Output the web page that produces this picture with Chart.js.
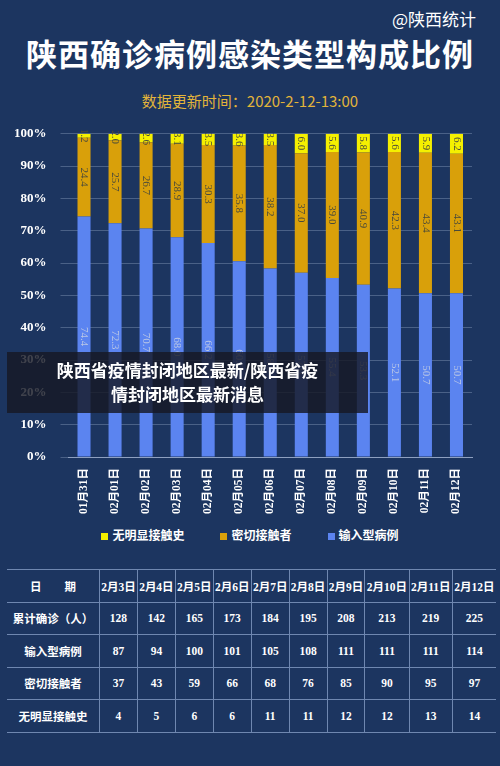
<!DOCTYPE html>
<html><head><meta charset="utf-8">
<script src="https://cdn.jsdelivr.net/npm/chart.js@4"></script>
<style>
body{margin:0;width:500px;height:766px;background:#1c3560;overflow:hidden;position:relative;font-family:"Noto Sans CJK SC",sans-serif;color:#fff}
#src{position:absolute;right:24px;top:6px;font-size:17px}
#title{position:absolute;left:0;width:500px;top:30px;text-align:center;font-size:31px;font-weight:bold;letter-spacing:1px}
#sub{position:absolute;left:0;width:500px;top:90px;text-align:center;font-size:15px;color:#e2b43a}
#wrap{position:absolute;left:0;top:112px;width:500px;height:405px}
#legend{position:absolute;left:0;width:500px;top:526px;text-align:center;font-size:12px;font-weight:bold}
#legend span{margin:0 18px}
#legend i{display:inline-block;width:7px;height:7px;margin-right:4px}
#banner{position:absolute;left:7px;top:352px;width:361px;height:61px;background:rgba(22,24,36,0.82);text-align:center;font-size:17px;font-weight:bold;line-height:24px;padding-top:6px;box-sizing:border-box}
table{position:absolute;left:7px;top:569px;width:489px;border-collapse:collapse;font-family:"Liberation Serif","Noto Sans CJK SC",serif;font-weight:bold;font-size:11.5px}
td{border-top:1px solid #6f87b0;border-bottom:1px solid #6f87b0;border-left:1px solid #6f87b0;height:31.5px;text-align:center;padding:0}
td:first-child{border-left:none;width:92px;font-family:"Noto Sans CJK SC",sans-serif}
</style></head><body>
<div id="src">@陕西统计</div>
<div id="title">陕西确诊病例感染类型构成比例</div>
<div id="sub">数据更新时间：2020-2-12-13:00</div>
<div id="wrap"><canvas id="c"></canvas></div>
<div id="legend"></div>
<table id="tbl"></table>
<div id="banner">陕西省疫情封闭地区最新/陕西省疫<br>情封闭地区最新消息</div>
<script>
const dates = ['01月31日','02月01日','02月02日','02月03日','02月04日','02月05日','02月06日','02月07日','02月08日','02月09日','02月10日','02月11日','02月12日'];
const imported = [74.4,72.3,70.7,68.0,66.2,60.6,58.3,57.0,55.4,53.3,52.1,50.7,50.7];
const contact = [24.4,25.7,26.7,28.9,30.3,35.8,38.2,37.0,39.0,40.9,42.3,43.4,43.1];
const unknown = [1.2,2.0,2.6,3.1,3.5,3.6,3.5,6.0,5.6,5.8,5.6,5.9,6.2];

const tableDates = ['2月3日','2月4日','2月5日','2月6日','2月7日','2月8日','2月9日','2月10日','2月11日','2月12日'];
const totalCases = [128,142,165,173,184,195,208,213,219,225];
const importedCases = [87,94,100,101,105,108,111,111,111,114];
const contactCases = [37,43,59,66,68,76,85,90,95,97];
const unknownCases = [4,5,6,6,11,11,12,12,13,14];

const rows = [['日　　期',...tableDates],['累计确诊（人）',...totalCases],['输入型病例',...importedCases],['密切接触者',...contactCases],['无明显接触史',...unknownCases]];
document.getElementById('tbl').innerHTML = rows.map(r=>'<tr>'+r.map(v=>'<td>'+v+'</td>').join('')+'</tr>').join('');

const colors = ['#5b84f0','#d9a00a','#f5f000'];
const names = ['输入型病例','密切接触者','无明显接触史'];
document.getElementById('legend').innerHTML = [2,1,0].map(i=>'<span><i style="background:'+colors[i]+'"></i>'+names[i]+'</span>').join('');

const labelPlugin = {
  id:'vlabels',
  afterDatasetsDraw(chart){
    const ctx = chart.ctx;
    chart.data.datasets.forEach((ds,di)=>{
      chart.getDatasetMeta(di).data.forEach((bar,i)=>{
        const y = (bar.y + bar.base)/2;
        ctx.save();
        ctx.translate(bar.x, y);
        ctx.rotate(Math.PI/2);
        ctx.font = '11px "Liberation Serif",serif';
        ctx.fillStyle = di===0 ? '#b9c6e6' : '#4a4a3a';
        ctx.textAlign = 'center';
        ctx.textBaseline = 'middle';
        ctx.fillText(ds.data[i].toFixed(1), 0, 0);
        ctx.restore();
      });
    });
  }
};

new Chart(document.getElementById('c'),{
  type:'bar',
  data:{labels:dates,datasets:names.map((n,i)=>({label:n,data:[imported,contact,unknown][i],backgroundColor:colors[i]}))},
  options:{
    responsive:true,maintainAspectRatio:false,animation:false,
    layout:{padding:{left:0,right:28,top:4}},
    datasets:{bar:{barPercentage:0.42,categoryPercentage:1}},
    plugins:{tooltip:{enabled:false},legend:{display:false}},
    scales:{
      x:{stacked:true,grid:{display:false},border:{color:'#8ea0c0'},
        ticks:{color:'#fff',minRotation:90,maxRotation:90,font:{size:11.5,weight:'bold',family:'"Liberation Serif","Noto Sans CJK SC"'}}},
      y:{stacked:true,min:0,max:100,grid:{color:'rgba(160,180,210,0.35)'},border:{display:false},
        ticks:{stepSize:10,color:'#fff',padding:14,callback:v=>v+'%',font:{size:13,weight:'bold',family:'"Liberation Serif"'}}}
    }
  },
  plugins:[labelPlugin]
});
</script>
</body></html>
